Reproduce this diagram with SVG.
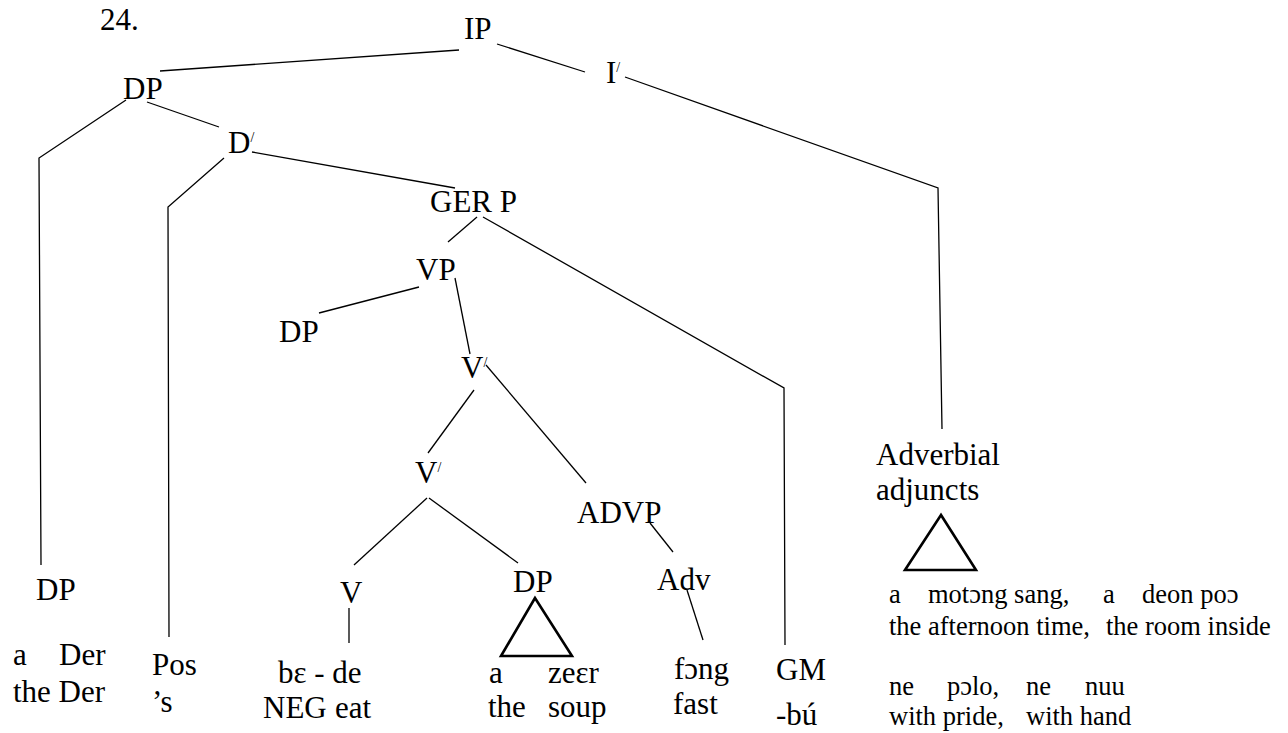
<svg xmlns="http://www.w3.org/2000/svg" width="1288" height="733" viewBox="0 0 1288 733">
<style>
.n{font-size:31px;fill:#000;}
.s{font-size:26.5px;fill:#000;}
.pr{font-size:14px;}
.c{stroke:#000;stroke-width:1.3;fill:none;}
.tri{stroke:#000;stroke-width:2.6;fill:none;stroke-linejoin:miter;}
</style>
<rect width="1288" height="733" fill="#fff"/>
<g id="connectors">
<line class="c" x1="459" y1="50" x2="160" y2="71"/>
<line class="c" x1="497" y1="44" x2="585" y2="72"/>
<polyline class="c" points="625,77 938,188 942,429"/>
<polyline class="c" points="126,100 39,158 41,565"/>
<line class="c" x1="147" y1="102" x2="219" y2="127"/>
<polyline class="c" points="224,158 168,207 169,637"/>
<line class="c" x1="252" y1="152" x2="455" y2="188"/>
<line class="c" x1="477" y1="217" x2="448" y2="242"/>
<polyline class="c" points="483,217 784,388 785,645"/>
<line class="c" x1="419" y1="287" x2="319" y2="313"/>
<line class="c" x1="455" y1="278" x2="470" y2="354"/>
<line class="c" x1="474" y1="390" x2="428" y2="453"/>
<line class="c" x1="486" y1="365" x2="586" y2="483"/>
<line class="c" x1="427" y1="498" x2="354" y2="565"/>
<line class="c" x1="429" y1="498" x2="518" y2="563"/>
<line class="c" x1="650" y1="523" x2="673" y2="552"/>
<line class="c" x1="687" y1="590" x2="703" y2="640"/>
<line class="c" x1="349" y1="608" x2="349" y2="643"/>
</g>
<g id="label-24"><text class="n" font-family="Liberation Serif" x="100" y="30">24.</text></g>
<g id="node-IP"><text class="n" font-family="Liberation Serif" x="464" y="39">IP</text></g>
<g id="node-DP-subject"><text class="n" font-family="Liberation Serif" x="123" y="99">DP</text></g>
<g id="node-Ibar"><text class="n" font-family="Liberation Serif" x="606" y="83">I<tspan class="pr" dy="-11">/</tspan></text></g>
<g id="node-Dbar"><text class="n" font-family="Liberation Serif" x="228" y="153">D<tspan class="pr" dy="-11">/</tspan></text></g>
<g id="node-GERP"><text class="n" font-family="Liberation Serif" x="430" y="212">GER P</text></g>
<g id="node-VP"><text class="n" font-family="Liberation Serif" x="416" y="280">VP</text></g>
<g id="node-DP-spec"><text class="n" font-family="Liberation Serif" x="279" y="342">DP</text></g>
<g id="node-Vbar1"><text class="n" font-family="Liberation Serif" x="461" y="378">V<tspan class="pr" dy="-11">/</tspan></text></g>
<g id="node-Vbar2"><text class="n" font-family="Liberation Serif" x="415" y="483">V<tspan class="pr" dy="-11">/</tspan></text></g>
<g id="node-ADVP"><text class="n" font-family="Liberation Serif" x="577" y="523">ADVP</text></g>
<g id="node-Adv"><text class="n" font-family="Liberation Serif" x="657" y="590">Adv</text></g>
<g id="node-DP-left"><text class="n" font-family="Liberation Serif" x="36" y="600">DP</text></g>
<g id="node-V"><text class="n" font-family="Liberation Serif" x="340" y="603">V</text></g>
<g id="node-DP-obj">
<text class="n" font-family="Liberation Serif" x="513" y="592">DP</text>
<polygon class="tri" points="535,598 501,656 572,656"/>
</g>
<g id="leaf-Der">
<text class="n" font-family="Liberation Serif" x="13" y="665">a</text>
<text class="n" font-family="Liberation Serif" x="59" y="665">Der</text>
<text class="n" font-family="Liberation Serif" x="13" y="702">the Der</text>
</g>
<g id="leaf-Pos">
<text class="n" font-family="Liberation Serif" x="152" y="675">Pos</text>
<text class="n" font-family="Liberation Serif" x="152" y="712">’s</text>
</g>
<g id="leaf-bede">
<text class="n" font-family="Liberation Serif" x="278" y="683">bɛ - de</text>
<text class="n" font-family="Liberation Serif" x="263" y="718">NEG</text>
<text class="n" font-family="Liberation Serif" x="335" y="718">eat</text>
</g>
<g id="leaf-zeer">
<text class="n" font-family="Liberation Serif" x="489" y="683">a</text>
<text class="n" font-family="Liberation Serif" x="548" y="683">zeɛr</text>
<text class="n" font-family="Liberation Serif" x="488" y="717">the</text>
<text class="n" font-family="Liberation Serif" x="548" y="717">soup</text>
</g>
<g id="leaf-fong">
<text class="n" font-family="Liberation Serif" x="674" y="679">fɔng</text>
<text class="n" font-family="Liberation Serif" x="673" y="714">fast</text>
</g>
<g id="leaf-GM">
<text class="n" font-family="Liberation Serif" x="776" y="680">GM</text>
<text class="n" font-family="Liberation Serif" x="776" y="725">-bú</text>
</g>
<g id="node-Adverbial">
<text class="n" font-family="Liberation Serif" x="876" y="465">Adverbial</text>
<text class="n" font-family="Liberation Serif" x="876" y="500">adjuncts</text>
<polygon class="tri" points="941,515 905,570 976,570"/>
</g>
<g id="leaf-adjuncts">
<text class="s" font-family="Liberation Serif" x="889" y="603">a</text>
<text class="s" font-family="Liberation Serif" x="928" y="603">motɔng sang,</text>
<text class="s" font-family="Liberation Serif" x="1103" y="603">a</text>
<text class="s" font-family="Liberation Serif" x="1142" y="603">deon poɔ</text>
<text class="s" font-family="Liberation Serif" x="889" y="635">the afternoon time,</text>
<text class="s" font-family="Liberation Serif" x="1106" y="635">the room inside</text>
<text class="s" font-family="Liberation Serif" x="889" y="695">ne</text>
<text class="s" font-family="Liberation Serif" x="947" y="695">pɔlo,</text>
<text class="s" font-family="Liberation Serif" x="1026" y="695">ne</text>
<text class="s" font-family="Liberation Serif" x="1085" y="695">nuu</text>
<text class="s" font-family="Liberation Serif" x="889" y="725">with pride,</text>
<text class="s" font-family="Liberation Serif" x="1026" y="725">with hand</text>
</g>
</svg>
